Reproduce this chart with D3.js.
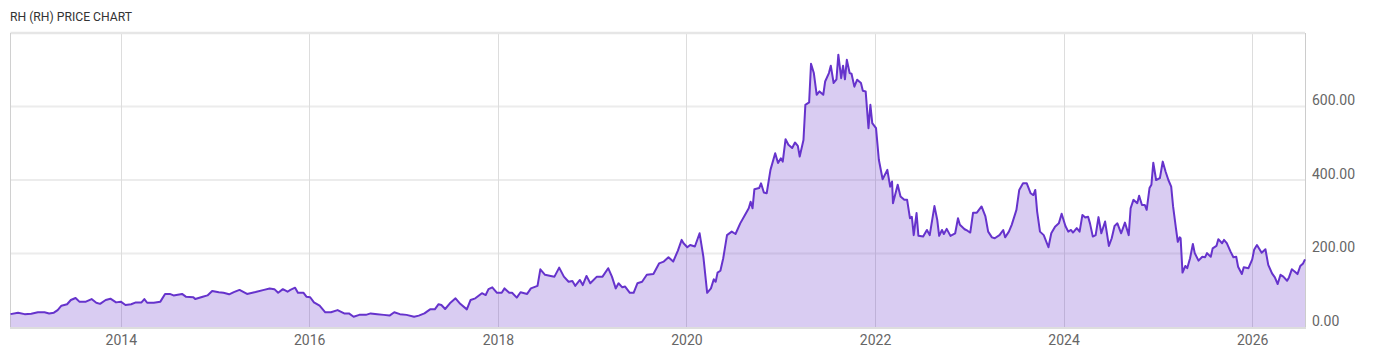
<!DOCTYPE html>
<html>
<head>
<meta charset="utf-8">
<script src="https://cdn.jsdelivr.net/npm/d3@7"></script>
<style>
  body { margin: 0; background: #fff; }
  svg { display: block; font-family: Roboto, "Noto Sans", sans-serif; }
</style>
</head>
<body>
<script>
// RH weekly-ish closes (decimal years)
var dates = [
  2012.83,2012.91,2012.98,2013.05,2013.12,2013.19,2013.24,2013.29,2013.33,2013.37,2013.43,2013.47,2013.52,2013.56,2013.63,2013.69,2013.74,2013.78,2013.84,2013.89,2013.95,
  2014.00,2014.05,2014.11,2014.16,2014.22,2014.25,2014.28,2014.35,2014.42,2014.47,2014.52,2014.56,2014.65,2014.69,2014.77,2014.79,2014.87,2014.92,2014.97,
  2015.04,2015.09,2015.15,2015.20,2015.26,2015.34,2015.43,2015.52,2015.58,2015.63,2015.67,2015.72,2015.77,2015.80,2015.85,2015.88,2015.94,2015.97,
  2016.01,2016.05,2016.11,2016.17,2016.23,2016.30,2016.37,2016.42,2016.47,2016.53,2016.60,2016.65,2016.72,2016.79,2016.85,2016.90,2016.96,
  2017.03,2017.11,2017.16,2017.22,2017.28,2017.33,2017.37,2017.40,2017.44,2017.49,2017.55,2017.60,2017.67,2017.71,2017.76,2017.83,2017.87,2017.90,2017.94,2017.99,
  2018.04,2018.07,2018.12,2018.15,2018.20,2018.24,2018.31,2018.35,2018.42,2018.45,2018.50,2018.56,2018.60,2018.65,2018.70,2018.75,2018.79,2018.82,2018.87,2018.90,2018.94,2018.98,
  2019.05,2019.11,2019.17,2019.21,2019.25,2019.28,2019.32,2019.35,2019.40,2019.44,2019.48,2019.53,2019.58,2019.65,2019.71,2019.76,2019.81,2019.86,2019.91,2019.95,2019.97,
  2020.01,2020.04,2020.09,2020.14,2020.18,2020.22,2020.26,2020.29,2020.31,2020.33,2020.36,2020.39,2020.43,2020.48,2020.52,2020.57,2020.62,2020.66,2020.68,2020.70,2020.72,2020.77,2020.79,2020.82,2020.85,2020.89,2020.94,2020.97,
  2021.00,2021.02,2021.05,2021.08,2021.12,2021.15,2021.18,2021.20,2021.24,2021.26,2021.30,2021.32,2021.35,2021.38,2021.41,2021.45,2021.47,2021.51,2021.53,2021.56,2021.59,2021.61,2021.64,2021.66,2021.68,2021.70,2021.73,2021.75,2021.78,2021.81,2021.85,2021.87,2021.90,2021.93,2021.95,2021.97,
  2022.01,2022.04,2022.08,2022.13,2022.16,2022.18,2022.19,2022.24,2022.27,2022.31,2022.34,2022.37,2022.39,2022.41,2022.44,2022.46,2022.51,2022.55,2022.58,2022.60,2022.63,2022.66,2022.68,2022.71,2022.73,2022.76,2022.80,2022.85,2022.88,2022.90,2022.95,2022.98,
  2023.01,2023.04,2023.08,2023.13,2023.17,2023.20,2023.24,2023.27,2023.32,2023.36,2023.38,2023.42,2023.45,2023.50,2023.53,2023.57,2023.61,2023.65,2023.68,2023.70,2023.72,2023.75,2023.79,2023.84,2023.87,2023.91,2023.95,2023.98,
  2024.02,2024.05,2024.08,2024.10,2024.14,2024.17,2024.20,2024.23,2024.26,2024.28,2024.31,2024.34,2024.37,2024.40,2024.44,2024.48,2024.51,2024.54,2024.57,2024.61,2024.65,2024.69,2024.71,2024.74,2024.78,2024.80,2024.83,2024.86,2024.88,2024.91,2024.93,2024.95,2024.98,
  2025.02,2025.05,2025.08,2025.11,2025.14,2025.16,2025.19,2025.21,2025.23,2025.24,2025.26,2025.29,2025.31,2025.34,2025.37,2025.39,2025.43,2025.47,2025.50,2025.52,2025.56,2025.58,2025.62,2025.64,2025.68,2025.70,2025.73,2025.77,2025.80,2025.83,2025.85,2025.89,2025.91,2025.96,
  2026.00,2026.02,2026.05,2026.10,2026.14,2026.17,2026.21,2026.24,2026.27,2026.30,2026.33,2026.37,2026.39,2026.42,2026.45,2026.48,2026.51,2026.54,2026.56
];
var closes = [
  35,39,35,36,40,40,37,39,46,58,62,73.5,79,69,69,76,66,63,73.5,77,67,
  69,60,62,67,67,76,66,66,69,90,90,86,90,82.5,81,76,82.5,86,98,
  94.5,93,89,95,101,90,95,101,105,103,93,103,96,101,107,93,93,82.5,
  81,67,58,40,40,46,37,37,28,33,33,37,35,33,31,40,35,
  33,28,31,37,48,48,62,60,49,64.5,78,63,48,73.5,78,92,87,103,108,93,
  93,105,93,93,80,94.5,90,105,112,157,142,139,137,161.5,137,123,125,112,128,114,139,119,
  137,137,160,137,105,119,108,110,93,93,119,123,142,144,173,178,190,178,208,237,228,
  217,223,219,255,191,93,105,130,123,148,153,187,250,259.5,253,282,305,323,341,323,375,378,391,366,364,427.5,473,446,
  459,450,511,496,487,502,493,464,509,604.5,611,716,691,632,641,632,668,691,711,664,674,741,677,711,674,727,691,689,654,673,664,643,641,541,604.5,555,
  541,455,402,427.5,382,396,337,387,355,346,346,296,300,250,310,248,246,264,250,282,329,291,248,264,253,267,248,255,296,278,266,262,
  257,311,311,328,302,259.5,244,241.5,250,264,244,259.5,278,318.6,373,391,391,364,359,373,314,259.5,250,217,255,273,282,308,
  275,259.5,264,257,269,259.5,305,298,300,282,246,250,299,255,287,220.5,241.5,275,282,255,284,250,323,346,337,357,332,332,319,378,387,447,400,
  405,450,423,400,382,328,269,232,244,241.5,148,166,160,187,226,201,180.5,191,190,201,191,214,220.5,239,228,237,228,205,190,191,164,144,162.5,160,
  184,210,223,202,211.5,169,146,135,117,142,137,126,135,157,151,144,166,173,184
];
var xTickYears = [2014, 2016, 2018, 2020, 2022, 2024, 2026];
var yTicks = [0, 200, 400, 600];
var yMax = 800;
var title = "RH (RH) PRICE CHART";

function yearToDate(t) {
  var y = Math.floor(t);
  var a = Date.UTC(y, 0, 1), b = Date.UTC(y + 1, 0, 1);
  return new Date(a + (t - y) * (b - a));
}

function draw() {
  var width = 1400, height = 357;
  var left = 10.5, right = 1305, top = 33, bottom = 327;
  var lineColor = "#6633cc";

  var data = d3.zip(dates, closes).map(function (d) {
    return { date: yearToDate(d[0]), close: d[1] };
  });

  var svg = d3.select("body").append("svg")
    .attr("width", width)
    .attr("height", height);

  var x = d3.scaleUtc()
    .domain(d3.extent(data, function (d) { return d.date; }))
    .range([left, right]);
  var y = d3.scaleLinear().domain([0, yMax]).range([bottom, top]);

  // title is a condensed face in the original, squeeze it to the same width
  svg.append("text")
    .attr("x", 10)
    .attr("y", 21)
    .attr("font-size", 13.5)
    .attr("fill", "#333")
    .attr("textLength", 122)
    .attr("lengthAdjust", "spacingAndGlyphs")
    .text(title);

  // horizontal grid
  svg.append("g").selectAll("line")
    .data(yTicks.filter(function (v) { return v > 0; }))
    .enter().append("line")
    .attr("x1", left).attr("x2", right)
    .attr("y1", function (v) { return y(v); })
    .attr("y2", function (v) { return y(v); })
    .attr("stroke", "#ececec")
    .attr("stroke-width", 2);

  // vertical year grid
  var yearDates = xTickYears.map(function (yr) { return new Date(Date.UTC(yr, 0, 1)); });
  svg.append("g").selectAll("line")
    .data(yearDates)
    .enter().append("line")
    .attr("x1", function (d) { return Math.round(x(d)) + 0.5; })
    .attr("x2", function (d) { return Math.round(x(d)) + 0.5; })
    .attr("y1", top).attr("y2", bottom)
    .attr("stroke", "#dddddd")
    .attr("stroke-width", 1);

  // frame
  svg.append("line").attr("x1", left).attr("x2", right).attr("y1", top).attr("y2", top)
    .attr("stroke", "#e6e6e6").attr("stroke-width", 2.5);
  svg.append("line").attr("x1", left).attr("x2", left).attr("y1", top).attr("y2", bottom)
    .attr("stroke", "#d0d0d0").attr("stroke-width", 1);
  svg.append("line").attr("x1", right + 0.5).attr("x2", right + 0.5).attr("y1", top).attr("y2", bottom)
    .attr("stroke", "#cccccc").attr("stroke-width", 1);

  var area = d3.area()
    .x(function (d) { return x(d.date); })
    .y0(bottom)
    .y1(function (d) { return y(d.close); });
  var line = d3.line()
    .x(function (d) { return x(d.date); })
    .y(function (d) { return y(d.close); });

  svg.append("path")
    .datum(data)
    .attr("d", area)
    .attr("fill", lineColor)
    .attr("fill-opacity", 0.25);

  svg.append("path")
    .datum(data)
    .attr("d", line)
    .attr("fill", "none")
    .attr("stroke", lineColor)
    .attr("stroke-width", 2)
    .attr("stroke-linejoin", "round");

  // bottom axis
  var xAxis = d3.axisBottom(x)
    .tickValues(yearDates)
    .tickFormat(d3.utcFormat("%Y"))
    .tickSize(0)
    .tickPadding(8);
  var gx = svg.append("g")
    .attr("transform", "translate(0," + bottom + ")")
    .call(xAxis);
  gx.select(".domain").remove();
  gx.selectAll("text").attr("font-size", 14).attr("fill", "#666").attr("font-family", "Roboto");
  svg.append("line").attr("x1", left - 0.5).attr("x2", right + 1).attr("y1", bottom + 1).attr("y2", bottom + 1)
    .attr("stroke", "#dddddd").attr("stroke-width", 2);

  // right axis
  var yAxis = d3.axisRight(y)
    .tickValues(yTicks)
    .tickFormat(d3.format(".2f"))
    .tickSize(0)
    .tickPadding(7);
  var gy = svg.append("g")
    .attr("transform", "translate(" + right + ",0)")
    .call(yAxis);
  gy.select(".domain").remove();
  gy.selectAll("text")
    .attr("dy", -2)
    .attr("font-size", 14)
    .attr("fill", "#666")
    .attr("font-family", "Roboto");
}
window.onload = draw;
</script>
</body>
</html>
